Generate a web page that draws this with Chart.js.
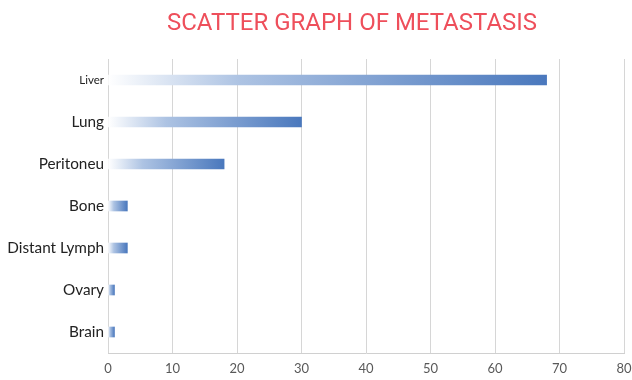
<!DOCTYPE html>
<html>
<head>
<meta charset="utf-8">
<script src="https://cdn.jsdelivr.net/npm/chart.js@4/dist/chart.umd.min.js"></script>
<style>
  html, body { margin: 0; padding: 0; background: #ffffff; }
  #wrap { width: 632px; height: 380px; position: relative; }
</style>
</head>
<body>
<div id="wrap"><canvas id="c" width="632" height="380"></canvas></div>
<script>
// Metastasis sites and their counts
const sites = ['Liver', 'Lung', 'Peritoneu', 'Bone', 'Distant Lymph', 'Ovary', 'Brain'];
const counts = [68, 30, 18, 3, 3, 1, 1];
const xTicks = [0, 10, 20, 30, 40, 50, 60, 70, 80];
const titleText = 'SCATTER GRAPH OF METASTASIS';

// Horizontal white-to-blue gradient spanning each bar's own length
function barGradient(ctx) {
  const chart = ctx.chart;
  if (!chart.chartArea || ctx.type !== 'data') return '#4a78bc';
  const xs = chart.scales.x;
  const x0 = xs.getPixelForValue(0);
  const x1 = xs.getPixelForValue(counts[ctx.dataIndex]);
  const g = chart.ctx.createLinearGradient(x0, 0, Math.max(x1, x0 + 1), 0);
  g.addColorStop(0, 'rgba(255,255,255,1)');
  g.addColorStop(0.3, '#adc3e3');
  g.addColorStop(1, '#4a78bd');
  return g;
}

// Title drawn above the plot
const titlePlugin = {
  id: 'topTitle',
  afterDraw(chart) {
    const c = chart.ctx;
    c.save();
    c.font = '24px Roboto';
    c.fillStyle = '#ee4f5b';
    c.textAlign = 'center';
    c.textBaseline = 'middle';
    c.fillText(titleText, 352, 24);
    c.restore();
  }
};

new Chart(document.getElementById('c'), {
  type: 'bar',
  data: {
    labels: sites,
    datasets: [{
      data: counts,
      backgroundColor: barGradient,
      borderWidth: 0,
      barThickness: 10
    }]
  },
  options: {
    indexAxis: 'y',
    responsive: false,
    animation: false,
    devicePixelRatio: 1,
    layout: { padding: { top: 59, right: 8, left: 0, bottom: 0 } },
    plugins: {
      legend: { display: false },
      tooltip: { enabled: false },
      title: { display: false }
    },
    scales: {
      x: {
        min: 0,
        max: 80,
        afterBuildTicks(scale) { scale.ticks = xTicks.map(v => ({ value: v })); },
        afterFit(scale) {
          scale.height = 27;
          scale.paddingLeft = 0;
          scale.paddingRight = 0;
        },
        grid: { color: '#d6d6d6', lineWidth: 1, drawTicks: false },
        border: { display: true, color: '#d0d0d0' },
        ticks: {
          color: '#595959',
          font: { family: 'Lato', size: 13 },
          padding: 8,
          maxRotation: 0
        }
      },
      y: {
        afterFit(scale) { scale.width = 108; },
        grid: { display: false, drawTicks: false },
        border: { display: false },
        ticks: {
          color: '#222222',
          padding: 4,
          font: (ctx) => ({ family: 'Lato', size: ctx.index === 0 ? 11.5 : 15.3 })
        }
      }
    }
  },
  plugins: [titlePlugin]
});
</script>
</body>
</html>
